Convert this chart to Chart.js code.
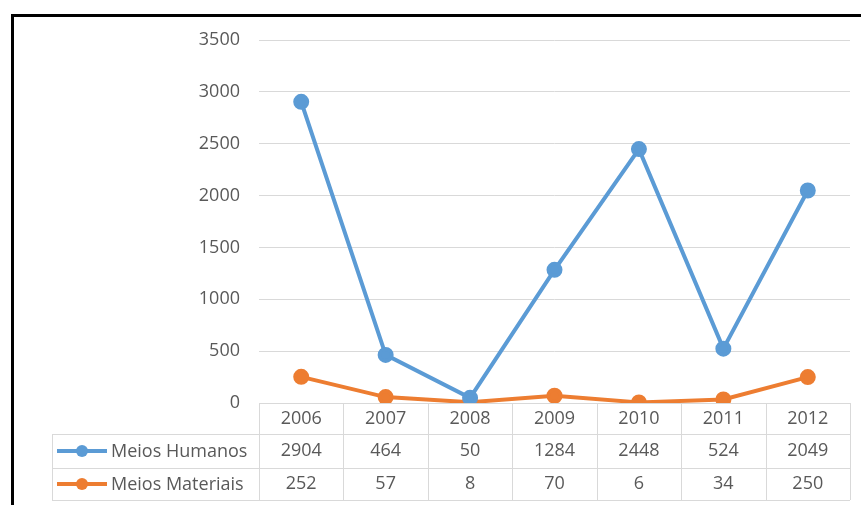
<!DOCTYPE html>
<html>
<head>
<meta charset="utf-8">
<script src="https://cdn.jsdelivr.net/npm/chart.js@4/dist/chart.umd.min.js"></script>
<style>
  html, body { margin: 0; padding: 0; background: #fff; }
  #wrap { position: relative; width: 861px; height: 505px; overflow: hidden; }
  #frame { position: absolute; left: 11px; top: 14px; width: 900px; height: 600px;
           border-left: 3px solid #000; border-top: 3px solid #000; }
  canvas { position: absolute; left: 0; top: 0; }
</style>
</head>
<body>
<div id="wrap">
  <div id="frame"></div>
  <canvas id="chart" width="861" height="505"></canvas>
</div>
<script>
const years = ['2006', '2007', '2008', '2009', '2010', '2011', '2012'];
const meiosHumanos = [2904, 464, 50, 1284, 2448, 524, 2049];
const meiosMateriais = [252, 57, 8, 70, 6, 34, 250];
const yTicks = [0, 500, 1000, 1500, 2000, 2500, 3000, 3500];

const blue = '#5B9BD5';
const orange = '#ED7D31';
const textColor = '#595959';
const lineColor = '#D9D9D9';
const font = '18px "Open Sans", "Noto Sans", sans-serif';

// data table under the plot, like Excel's "data table with legend keys"
const dataTable = {
    id: 'dataTable',
    afterDraw(chart) {
        const ctx = chart.ctx;
        const x = chart.scales.x;
        const area = chart.chartArea;
        const half = (area.right - area.left) / years.length / 2;
        const tableLeft = 52;
        const rows = [area.bottom, 434, 468, 500];

        ctx.save();
        ctx.strokeStyle = lineColor;
        ctx.lineWidth = 1;
        ctx.beginPath();
        ctx.moveTo(area.left, rows[0] + 0.5);
        ctx.lineTo(area.right, rows[0] + 0.5);
        for (let r = 1; r < rows.length; r++) {
            ctx.moveTo(tableLeft, rows[r] + 0.5);
            ctx.lineTo(area.right, rows[r] + 0.5);
        }
        ctx.moveTo(tableLeft + 0.5, rows[1]);
        ctx.lineTo(tableLeft + 0.5, rows[3]);
        for (let i = 0; i <= years.length; i++) {
            const px = Math.round(area.left + i * half * 2) + 0.5;
            ctx.moveTo(px, rows[0]);
            ctx.lineTo(px, rows[3]);
        }
        ctx.stroke();

        ctx.font = font;
        ctx.fillStyle = textColor;
        ctx.textAlign = 'center';
        ctx.textBaseline = 'middle';
        const series = [meiosHumanos, meiosMateriais];
        years.forEach((yr, i) => {
            const cx = x.getPixelForValue(i);
            ctx.fillText(yr, cx, (rows[0] + rows[1]) / 2);
            series.forEach((s, r) => {
                ctx.fillText(String(s[i]), cx, (rows[r + 1] + rows[r + 2]) / 2);
            });
        });

        // legend keys
        chart.data.datasets.forEach((ds, r) => {
            const cy = (rows[r + 1] + rows[r + 2]) / 2;
            ctx.strokeStyle = ds.borderColor;
            ctx.lineWidth = 4;
            ctx.beginPath();
            ctx.moveTo(57, cy);
            ctx.lineTo(107, cy);
            ctx.stroke();
            ctx.fillStyle = ds.borderColor;
            ctx.beginPath();
            ctx.arc(82, cy, 6, 0, Math.PI * 2);
            ctx.fill();
            ctx.fillStyle = textColor;
            ctx.textAlign = 'left';
            ctx.fillText(ds.label, 111, cy + 1);
        });
        ctx.restore();
    }
};

const ctx = document.getElementById('chart').getContext('2d');
const chart = new Chart(ctx, {
    type: 'line',
    data: {
        labels: years,
        datasets: [{
            label: 'Meios Humanos',
            data: meiosHumanos,
            borderColor: blue,
            backgroundColor: blue,
            borderWidth: 4,
            pointRadius: 6,
            pointHoverRadius: 6,
            tension: 0
        }, {
            label: 'Meios Materiais',
            data: meiosMateriais,
            borderColor: orange,
            backgroundColor: orange,
            borderWidth: 4,
            pointRadius: 6,
            pointHoverRadius: 6,
            tension: 0
        }]
    },
    options: {
        responsive: false,
        animation: false,
        layout: {
            padding: { top: 40, bottom: 102, left: 0, right: 11 }
        },
        plugins: {
            legend: { display: false },
            tooltip: { enabled: false }
        },
        scales: {
            x: {
                display: false,
                offset: true
            },
            y: {
                min: 0,
                max: 3500,
                afterBuildTicks(scale) {
                    scale.ticks = yTicks.map(v => ({ value: v }));
                },
                afterFit(scale) {
                    scale.width = 259;
                },
                border: { display: false },
                grid: { color: lineColor, drawTicks: false },
                ticks: {
                    padding: 19,
                    color: textColor,
                    font: { family: '"Open Sans", "Noto Sans", sans-serif', size: 18 },
                    callback: v => String(v)
                }
            }
        }
    },
    plugins: [dataTable]
});
</script>
</body>
</html>
